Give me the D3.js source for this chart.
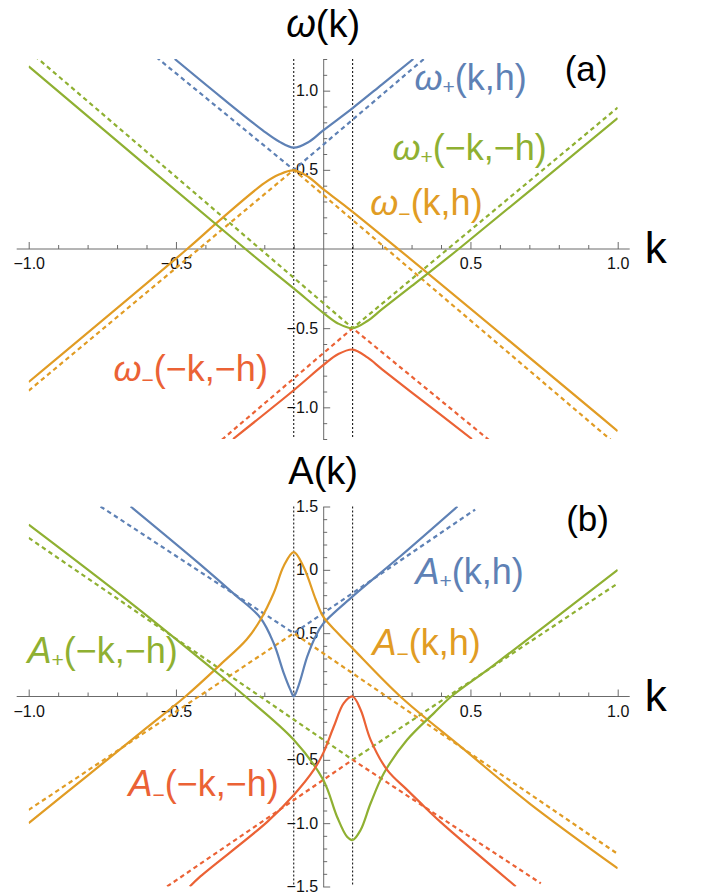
<!DOCTYPE html>
<html>
<head>
<meta charset="utf-8">
<title>omega(k) and A(k)</title>
<script src="https://cdnjs.cloudflare.com/ajax/libs/d3/7.8.5/d3.min.js"></script>
<style>
  html, body { margin: 0; padding: 0; background: #fff; }
  .js-container { width: 704px; height: 896px; }
  .svg text { font-family: "Liberation Sans", Arial, Helvetica, sans-serif; }
  .axis line, .axis .domain, .axis-line { stroke: #6b6b6b; stroke-width: 1; fill: none; }
  .h-mark { stroke: #000; stroke-width: 1; stroke-dasharray: 2,2; }
  .curve { fill: none; stroke-width: 2.2; stroke-linejoin: round; }
  .curve.is-bare { stroke-dasharray: 4.5,3.5; }
</style>
</head>
<body>
<div class="js-container"></div>
<script>
// values
var kMajorTicks = [-1.0, -0.5, 0.5, 1.0];
var kMinorTicks = [-0.9, -0.8, -0.7, -0.6, -0.4, -0.3, -0.2, -0.1, 0.1, 0.2, 0.3, 0.4, 0.6, 0.7, 0.8, 0.9];
var omegaMajorTicks = [-1.0, -0.5, 0.5, 1.0];
var omegaMinorTicks = [-1.2, -1.1, -0.9, -0.8, -0.7, -0.6, -0.4, -0.3, -0.2, -0.1,
                       0.1, 0.2, 0.3, 0.4, 0.6, 0.7, 0.8, 0.9, 1.1, 1.2];
var ampMajorTicks = [-1.5, -1.0, -0.5, 0.5, 1.0, 1.5];
var ampMinorTicks = [-1.4, -1.3, -1.2, -1.1, -0.9, -0.8, -0.7, -0.6, -0.4, -0.3, -0.2, -0.1,
                     0.1, 0.2, 0.3, 0.4, 0.6, 0.7, 0.8, 0.9, 1.1, 1.2, 1.3, 1.4];
var hMarks = [-0.1, 0.1];

// bare (dashed) branches, the same in both panels
var plusBare = [[-0.756, 1.5], [-0.1, 0.5], [0.516, 1.476]];
var minusBare = [[-1.0, -0.895], [-0.1, 0.5], [1.0, -1.243]];
var plusMirBare = [[-1.0, 1.252], [0.1, -0.5], [1.0, 0.893]];
var minusMirBare = [[-0.53, -1.5], [0.1, -0.5], [0.739, -1.475]];

// (a) omega(k)
var omegaPlus = [[-0.504, 1.2], [-0.35, 0.964], [-0.2, 0.742], [-0.15, 0.679], [-0.1, 0.64],
                 [-0.05, 0.675], [0, 0.749], [0.1, 0.89], [0.2, 1.04], [0.306, 1.2]];
var omegaMinus = [[-1.0, -0.84], [-0.462, 0], [-0.35, 0.184], [-0.2, 0.416], [-0.15, 0.47],
                  [-0.1, 0.496], [-0.05, 0.455], [0, 0.378], [0.1, 0.235], [1.0, -1.15]];
var omegaPlusMir = [[-1.0, 1.154], [-0.264, 0], [-0.1, -0.249], [0, -0.403], [0.05, -0.47],
                    [0.1, -0.5], [0.15, -0.455], [0.2, -0.38], [0.3, -0.235], [0.46, 0], [1.0, 0.827]];
var omegaMinusMir = [[-0.306, -1.2], [-0.1, -0.892], [0, -0.734], [0.05, -0.665], [0.1, -0.635],
                     [0.15, -0.685], [0.2, -0.76], [0.3, -0.905], [0.505, -1.2]];

// (b) A(k)
var ampPlus = [[-0.654, 1.5], [-0.417, 1.041], [-0.303, 0.81], [-0.213, 0.62], [-0.168, 0.42],
               [-0.134, 0.185], [-0.111, 0.05], [-0.1, 0.0], [-0.083, 0.09], [-0.054, 0.316],
               [-0.026, 0.474], [0, 0.575], [0.1, 0.79], [0.262, 1.107], [0.456, 1.5]];
var ampMinus = [[-1.0, -1.0], [-0.8, -0.624], [-0.6, -0.248], [-0.468, 0], [-0.35, 0.25],
                [-0.26, 0.45], [-0.213, 0.606], [-0.168, 0.817], [-0.134, 1.03], [-0.1, 1.14],
                [-0.066, 1.02], [-0.026, 0.77], [0, 0.63], [0.05, 0.5], [0.1, 0.38], [0.262, 0],
                [0.473, -0.408], [0.7, -0.843], [1.0, -1.357]];
var ampPlusMir = [[-1.0, 1.357], [-0.643, 0.72], [-0.372, 0.21], [-0.264, 0], [-0.1, -0.342],
                  [0, -0.658], [0.047, -0.949], [0.081, -1.107], [0.1, -1.133], [0.127, -1.054],
                  [0.161, -0.843], [0.206, -0.606], [0.285, -0.342], [0.376, -0.131], [0.435, 0],
                  [0.575, 0.24], [1.0, 1.0]];
var ampMinusMir = [[-0.453, -1.5], [-0.417, -1.42], [-0.19, -0.99], [-0.1, -0.777], [-0.032, -0.579],
                   [0, -0.447], [0.036, -0.237], [0.07, -0.052], [0.1, 0], [0.127, -0.105],
                   [0.161, -0.342], [0.217, -0.579], [0.285, -0.737], [0.326, -0.83],
                   [0.398, -0.99], [0.654, -1.5]];

;(function() {
  'use strict';

  var blue = '#5e81b5';
  var orange = '#e19c24';
  var green = '#8fb032';
  var red = '#eb6235';

  var container = d3.select('.js-container');

  var svg = container.append('svg')
              .classed('svg', true)
              .attr('width', 704)
              .attr('height', 896);

  var fmt = d3.format('.1f');

  drawPanel({
    name: 'a',
    yDomain: [-1.2, 1.2],
    yRange: [439, 59],
    majorTicks: omegaMajorTicks,
    minorTicks: omegaMinorTicks,
    title: {sym: 'ω', italic: true},
    letter: {text: '(a)', k: 0.82, v: 1.061},
    curves: [
      {data: plusBare, color: blue, bare: true},
      {data: minusBare, color: orange, bare: true},
      {data: plusMirBare, color: green, bare: true},
      {data: minusMirBare, color: red, bare: true},
      {data: omegaPlus, color: blue},
      {data: omegaMinus, color: orange},
      {data: omegaPlusMir, color: green},
      {data: omegaMinusMir, color: red}
    ],
    labels: [
      {sym: 'ω', sub: '+', args: '(k,h)', k: 0.31, v: 1.004, color: blue},
      {sym: 'ω', sub: '+', args: '(−k,−h)', k: 0.235, v: 0.562, color: green},
      {sym: 'ω', sub: '−', args: '(k,h)', k: 0.16, v: 0.215, color: orange},
      {sym: 'ω', sub: '−', args: '(−k,−h)', k: -0.712, v: -0.834, color: red}
    ]
  });

  drawPanel({
    name: 'b',
    yDomain: [-1.5, 1.5],
    yRange: [886.5, 506.5],
    majorTicks: ampMajorTicks,
    minorTicks: ampMinorTicks,
    title: {sym: 'A', italic: false},
    letter: {text: '(b)', k: 0.825, v: 1.31},
    curves: [
      {data: plusBare, color: blue, bare: true},
      {data: minusBare, color: orange, bare: true},
      {data: plusMirBare, color: green, bare: true},
      {data: minusMirBare, color: red, bare: true},
      {data: ampPlus, color: blue},
      {data: ampMinus, color: orange},
      {data: ampPlusMir, color: green},
      {data: ampMinusMir, color: red}
    ],
    labels: [
      {sym: 'A', sub: '+', args: '(k,h)', k: 0.313, v: 0.891, color: blue},
      {sym: 'A', sub: '−', args: '(k,h)', k: 0.167, v: 0.33, color: orange},
      {sym: 'A', sub: '+', args: '(−k,−h)', k: -1.004, v: 0.266, color: green},
      {sym: 'A', sub: '−', args: '(−k,−h)', k: -0.661, v: -0.785, color: red}
    ]
  });

  /**
   * Draws one panel: axes with minor ticks, the two dotted k = ±h marks,
   * dashed and solid branches, and the text labels.
   */
  function drawPanel(p) {
    var g = svg.append('g').classed('panel panel-' + p.name, true);

    var x = d3.scaleLinear().domain([-1, 1]).range([28.7, 617.7]);
    var y = d3.scaleLinear().domain(p.yDomain).range(p.yRange);

    var top = y(p.yDomain[1]);
    var bottom = y(p.yDomain[0]);

    var clipId = 'clip-' + p.name;
    g.append('clipPath')
        .attr('id', clipId)
      .append('rect')
        .attr('x', x(-1))
        .attr('y', top)
        .attr('width', x(1) - x(-1))
        .attr('height', bottom - top);

    // horizontal k axis, a bit longer than the plot range
    g.append('line')
        .classed('axis-line', true)
        .attr('x1', x(-1) - 12)
        .attr('x2', x(1) + 12)
        .attr('y1', y(0))
        .attr('y2', y(0));

    var xMinor = g.append('g')
        .classed('axis', true)
        .attr('transform', 'translate(0,' + y(0) + ')')
        .call(d3.axisBottom(x).tickValues(kMinorTicks).tickSize(-4).tickFormat(''));
    xMinor.select('.domain').remove();

    var xMajor = g.append('g')
        .classed('axis', true)
        .attr('transform', 'translate(0,' + y(0) + ')')
        .call(d3.axisBottom(x).tickValues(kMajorTicks).tickSize(-7).tickPadding(9).tickFormat(fmt));
    xMajor.select('.domain').remove();

    g.append('g')
        .classed('axis', true)
        .attr('transform', 'translate(' + x(0) + ',0)')
        .call(d3.axisLeft(y).tickValues(p.minorTicks).tickSize(-4).tickSizeOuter(0).tickFormat(''));

    var yMajor = g.append('g')
        .classed('axis', true)
        .attr('transform', 'translate(' + x(0) + ',0)')
        .call(d3.axisLeft(y).tickValues(p.majorTicks).tickSize(-7).tickPadding(5).tickFormat(fmt));
    yMajor.select('.domain').remove();

    g.selectAll('.axis text')
        .style('font-size', '16px')
        .style('font-family', '"Liberation Sans", Arial, sans-serif')
        .attr('fill', '#111');

    // dotted lines at k = -h and k = h
    g.selectAll('.h-mark')
        .data(hMarks)
      .enter().append('line')
        .classed('h-mark', true)
        .attr('x1', function(d) { return x(d); })
        .attr('x2', function(d) { return x(d); })
        .attr('y1', top)
        .attr('y2', bottom);

    var plot = g.append('g').attr('clip-path', 'url(#' + clipId + ')');

    p.curves.forEach(function(c) {
      var line = d3.line()
          .x(function(d) { return x(d[0]); })
          .y(function(d) { return y(d[1]); })
          .curve(c.bare ? d3.curveLinear : d3.curveCatmullRom.alpha(0.5));

      plot.append('path')
          .datum(c.data)
          .classed('curve', true)
          .classed('is-bare', !!c.bare)
          .attr('stroke', c.color)
          .attr('d', line);
    });

    // series labels
    p.labels.forEach(function(l) {
      var t = g.append('text')
          .attr('x', x(l.k))
          .attr('y', y(l.v))
          .attr('fill', l.color)
          .style('font-size', '36px');
      t.append('tspan').style('font-style', 'italic').text(l.sym);
      t.append('tspan')
          .attr('dy', l.sub == '+' ? 4 : 6)
          .style('font-size', '21px')
          .text(l.sub);
      t.append('tspan')
          .attr('dy', l.sub == '+' ? -4 : -6)
          .text(l.args);
    });

    // title above the vertical axis
    var title = g.append('text')
        .attr('x', x(0))
        .attr('y', top - 22.5)
        .attr('text-anchor', 'middle')
        .attr('fill', '#000')
        .style('font-size', '38px');
    title.append('tspan').style('font-style', p.title.italic ? 'italic' : 'normal').text(p.title.sym);
    title.append('tspan').text('(k)');

    // axis name k
    g.append('text')
        .attr('x', x(1) + 27)
        .attr('y', y(0) + 14)
        .attr('fill', '#000')
        .style('font-size', '44px')
        .text('k');

    g.append('text')
        .attr('x', x(p.letter.k))
        .attr('y', y(p.letter.v))
        .attr('fill', '#000')
        .style('font-size', '35px')
        .text(p.letter.text);
  }

}());
</script>
</body>
</html>
